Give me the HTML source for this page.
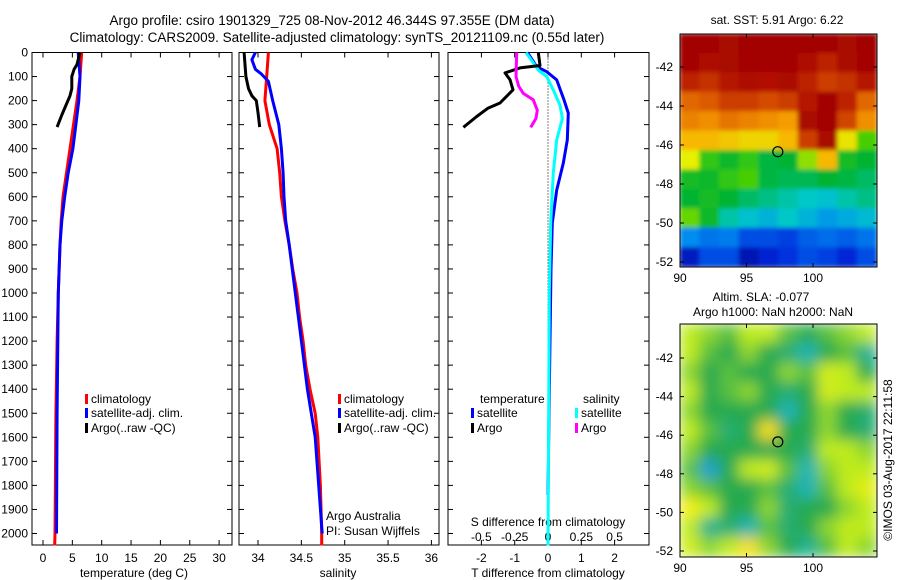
<!DOCTYPE html>
<html><head><meta charset="utf-8">
<style>
html,body{margin:0;padding:0;background:#fff;}
svg{display:block;font-family:"Liberation Sans",sans-serif;}
text{font-size:12px;fill:#000;}
</style></head>
<body>
<svg id="chart" width="900" height="580" viewBox="0 0 900 580">
<defs>
<filter id="blur" x="0" y="0" width="1" height="1"><feGaussianBlur stdDeviation="7"/></filter>
<filter id="blur2" x="0" y="0" width="1" height="1"><feGaussianBlur stdDeviation="2"/></filter>
<clipPath id="clipTop"><rect x="680" y="34" width="197" height="233"/></clipPath>
<clipPath id="clipBot"><rect x="680" y="324" width="197" height="233"/></clipPath>
</defs>
<text x="332" y="25" text-anchor="middle" style="font-size:13.5px">Argo profile: csiro 1901329_725 08-Nov-2012 46.344S 97.355E (DM data)</text>
<text x="337" y="42" text-anchor="middle" style="font-size:13.5px">Climatology: CARS2009. Satellite-adjusted climatology: synTS_20121109.nc (0.55d later)</text>
<g id="g"></g>
</svg>
<script>
// ---- data ----
const depthTicks = [0,100,200,300,400,500,600,700,800,900,1000,1100,1200,1300,1400,1500,1600,1700,1800,1900,2000];
const tempTicks = [0,5,10,15,20,25,30];
const salTicks = [34,34.5,35,35.5,36];
const salTickLabels = ["34","34.5","35","35.5","36"];
const tdiffTicks = [-2,-1,0,1,2];
const sdiffTicks = [-0.5,-0.25,0,0.25,0.5];
const sdiffTickLabels = ["-0.5","-0.25","0","0.25","0.5"];

const climDepth = [0,100,200,300,400,500,600,700,800,1000,1200,1500,2000,2050];
const climTemp  = [6.6,6.3,5.8,5.2,4.6,4.0,3.4,3.1,2.9,2.6,2.4,2.2,2.05,2.0];
const satDepth  = [0,100,200,300,400,500,600,700,800,1000,1500,2000];
const satTemp   = [6.0,6.3,6.1,5.6,5.1,4.3,3.7,3.2,2.9,2.6,2.4,2.3];
const argoDepth = [0,50,70,100,150,180,220,260,310];
const argoTemp  = [6.3,5.8,5.3,4.9,4.9,4.6,3.9,3.2,2.4];

const climSalDepth = [0,100,200,300,400,500,600,700,800,900,1000,1100,1200,1300,1400,1500,1600,1800,2000,2050];
const climSal = [34.12,34.10,34.08,34.13,34.22,34.25,34.27,34.31,34.36,34.40,34.45,34.48,34.52,34.55,34.60,34.66,34.69,34.72,34.735,34.735];
const satSalDepth = [0,30,70,90,120,200,300,400,500,600,700,800,1000,1200,1400,1600,1800,2000];
const satSal = [33.97,33.93,33.97,34.04,34.12,34.17,34.24,34.27,34.29,34.30,34.32,34.36,34.43,34.50,34.57,34.66,34.70,34.74];
const argoSalDepth = [0,100,150,180,200,250,310];
const argoSal = [33.84,33.86,33.89,33.93,33.98,34.0,34.02];

const dSatTDepth = [0,59,80,114,197,252,364,460,572,709,900,1500,1840];
const dSatT = [-0.62,-0.34,-0.04,0.26,0.48,0.61,0.58,0.46,0.26,0.13,0.09,0.03,0.0];
const dSatSDepth = [0,75,100,156,219,274,364,500,709,1000,1500,2050];
const dSatS = [-0.165,-0.07,-0.01,0.04,0.09,0.108,0.065,0.04,0.02,0.01,0.005,0.0];
const dArgoTDepth = [0,54,64,85,113,155,210,231,266,311];
const dArgoT = [-0.29,-0.24,-0.84,-1.29,-1.14,-1.05,-1.44,-1.8,-2.14,-2.54];
const dArgoSDepth = [0,100,140,170,197,240,274,311];
const dArgoS = [-0.235,-0.24,-0.22,-0.185,-0.11,-0.08,-0.09,-0.13];

const latTicks = [-42,-44,-46,-48,-50,-52];
const lonTicks = [90,95,100];
const sstGrid = [
[0.99,0.99,0.97,0.99,0.99,0.99,0.99,0.99,0.97,0.99],
[0.98,0.95,0.97,0.98,0.98,0.98,0.95,0.9,0.96,0.98],
[0.9,0.88,0.92,0.95,0.93,0.96,0.9,0.86,0.88,0.92],
[0.8,0.82,0.86,0.86,0.84,0.86,0.92,0.99,0.9,0.8],
[0.76,0.74,0.78,0.76,0.74,0.72,0.97,0.99,0.85,0.74],
[0.68,0.68,0.66,0.64,0.64,0.68,0.86,0.97,0.62,0.52],
[0.6,0.5,0.46,0.5,0.44,0.45,0.56,0.68,0.47,0.45],
[0.47,0.46,0.5,0.52,0.44,0.43,0.43,0.45,0.44,0.42],
[0.45,0.47,0.45,0.42,0.4,0.38,0.36,0.35,0.38,0.4],
[0.54,0.46,0.38,0.35,0.33,0.36,0.33,0.3,0.32,0.34],
[0.28,0.25,0.26,0.2,0.2,0.18,0.22,0.24,0.22,0.25],
[0.1,0.2,0.2,0.08,0.13,0.16,0.2,0.18,0.14,0.2]];
const slaGrid = [
[0.6,0.55,0.5,0.6,0.6,0.5,0.45,0.5,0.55,0.6],
[0.6,0.5,0.45,0.55,0.45,0.4,0.3,0.45,0.5,0.35],
[0.55,0.45,0.5,0.45,0.45,0.55,0.5,0.65,0.6,0.45],
[0.6,0.45,0.5,0.55,0.45,0.4,0.45,0.65,0.6,0.6],
[0.55,0.45,0.45,0.45,0.45,0.3,0.45,0.55,0.45,0.4],
[0.6,0.5,0.4,0.45,0.8,0.45,0.45,0.55,0.45,0.4],
[0.55,0.45,0.45,0.45,0.45,0.45,0.4,0.6,0.6,0.55],
[0.5,0.15,0.45,0.6,0.65,0.5,0.3,0.55,0.6,0.6],
[0.55,0.5,0.45,0.45,0.5,0.4,0.3,0.5,0.6,0.7],
[0.75,0.6,0.45,0.45,0.55,0.4,0.45,0.45,0.55,0.6],
[0.6,0.35,0.4,0.3,0.5,0.4,0.45,0.55,0.6,0.6],
[0.65,0.55,0.6,0.8,0.55,0.45,0.35,0.5,0.6,0.55]];
const argoLon = 97.355, argoLat = -46.344;

// ---- helpers ----
const NS="http://www.w3.org/2000/svg";
const G=document.getElementById('g');
function mk(tag,attrs,parent){const e=document.createElementNS(NS,tag);for(const k in attrs)e.setAttribute(k,attrs[k]);(parent||G).appendChild(e);return e;}
function txt(s,x,y,anchor,parent,extra){const t=mk('text',Object.assign({x:x,y:y,'text-anchor':anchor||'start'},extra||{}),parent);t.textContent=s;return t;}
const TOP=52.5, BOT=545, PXD=0.2405;
const yD=d=>TOP+d*PXD;
const xT=v=>43+v*5.87;
const xS=v=>258+(v-34)*86.7;
const xDT=v=>548+v*33.3;
const xDS=v=>548+v*133.3;
function line(xs,ds,fx,color,name){
  const p=xs.map((v,i)=>(i?'L':'M')+fx(v).toFixed(1)+' '+yD(ds[i]).toFixed(1)).join(' ');
  const e=mk('path',{d:p,fill:'none',stroke:color,'stroke-width':3,'stroke-linejoin':'round'});
  
  
}
function frame(x0,x1,name){
  const r=mk('rect',{x:x0,y:TOP,width:x1-x0,height:BOT-TOP,fill:'none',stroke:'#000','stroke-width':1});
  
  
  depthTicks.forEach(d=>{mk('line',{x1:x0,x2:x0+5,y1:yD(d),y2:yD(d),stroke:'#000'});mk('line',{x1:x1-5,x2:x1,y1:yD(d),y2:yD(d),stroke:'#000'});});
}
function xticks(vals,labels,fx,name){
  vals.forEach((v,i)=>{const x=fx(v);
    mk('line',{x1:x,x2:x,y1:TOP,y2:TOP+5,stroke:'#000'});mk('line',{x1:x,x2:x,y1:BOT-5,y2:BOT,stroke:'#000'});
    const t=txt(labels[i],x,562,'middle');
    
    });
}
depthTicks.forEach(d=>{const t=txt(String(d),28,yD(d)+4,'end');
  
  });

// panel 1
frame(32,232,'temperature-panel');
xticks(tempTicks,tempTicks.map(String),xT,'temperature-tick-label');
txt('temperature (deg C)',134,577,'middle');
line(climTemp,climDepth,xT,'#f00','temp-climatology-line');
line(satTemp,satDepth,xT,'#00f','temp-satellite-line');
line(argoTemp,argoDepth,xT,'#000','temp-argo-line');
function legend(x,y,color,label,name){
  mk('rect',{x:x,y:y-9,width:3,height:10,fill:color});
  const t=txt(label,x+6,y,'start');
  
  
}
legend(85,403,'#f00','climatology','legend-climatology');
legend(85,417,'#00f','satellite-adj. clim.','legend-satellite');
legend(85,432,'#000','Argo(..raw -QC)','legend-argo');

// panel 2
frame(239,439,'salinity-panel');
xticks(salTicks,salTickLabels,xS,'salinity-tick-label');
txt('salinity',338,577,'middle');
line(climSal,climSalDepth,xS,'#f00','sal-climatology-line');
line(satSal,satSalDepth,xS,'#00f','sal-satellite-line');
line(argoSal,argoSalDepth,xS,'#000','sal-argo-line');
legend(338,403,'#f00','climatology','legend-climatology-2');
legend(338,417,'#00f','satellite-adj. clim.','legend-satellite-2');
legend(338,432,'#000','Argo(..raw -QC)','legend-argo-2');
txt('Argo Australia',326,520,'start');
txt('PI: Susan Wijffels',326,535,'start');

// panel 3
frame(448,649,'difference-panel');
mk('line',{x1:548,x2:548,y1:TOP,y2:BOT,stroke:'#000','stroke-dasharray':'1,2'});
xticks(tdiffTicks,tdiffTicks.map(String),xDT,'tdiff-tick-label');
sdiffTicks.forEach((v,i)=>{const t=txt(sdiffTickLabels[i],xDS(v),541,'middle');
  
  });
txt('S difference from climatology',548,526,'middle');
txt('T difference from climatology',548,577,'middle');
line(dSatT,dSatTDepth,xDT,'#00f','tdiff-satellite-line');
line(dSatS,dSatSDepth,xDS,'#0ff','sdiff-satellite-line');
line(dArgoT,dArgoTDepth,xDT,'#000','tdiff-argo-line');
line(dArgoS,dArgoSDepth,xDS,'#f0f','sdiff-argo-line');
txt('temperature',480,403,'start');
txt('salinity',583,403,'start');
legend(471,417,'#00f','satellite','legend-t-satellite');
legend(471,432,'#000','Argo','legend-t-argo');
legend(575,417,'#0ff','satellite','legend-s-satellite');
legend(575,432,'#f0f','Argo','legend-s-argo');

// maps
function ramp(stops,v){for(let i=1;i<stops.length;i++){if(v<=stops[i][0]){const a=stops[i-1],b=stops[i],f=(v-a[0])/(b[0]-a[0]);
  return 'rgb('+a[1].map((c,k)=>Math.round(c+(b[1][k]-c)*f)).join(',')+')';}}const l=stops[stops.length-1][1];return 'rgb('+l.join(',')+')';}
const sstStops=[[0,[0,0,130]],[0.15,[0,40,220]],[0.28,[0,140,240]],[0.36,[0,200,200]],[0.45,[0,180,50]],[0.53,[80,210,0]],[0.6,[230,240,0]],[0.7,[250,170,0]],[0.82,[220,90,0]],[0.92,[180,20,0]],[1,[160,0,0]]];
const slaStops=[[0,[30,140,230]],[0.3,[30,180,180]],[0.45,[40,170,80]],[0.6,[190,235,30]],[0.75,[245,240,20]],[1,[245,160,0]]];
const sstCol=v=>ramp(sstStops,v);
const slaCol=v=>ramp(slaStops,v);
function map(y0,grid,colf,clip,filt,name,latPx,latRef){
  const x0=680,w=197,h=233,cw=w/10,ch=h/12;
  const lonX=l=>680+(l-90)*13.3;
  const latY=l=>latRef+(-42-l)*latPx;
  const g=mk('g',{'clip-path':`url(#${clip})`});
  
  
  const inner=mk('g',{filter:`url(#${filt})`},g);
  mk('rect',{x:x0,y:y0,width:w,height:h,fill:colf(0.45)},inner);
  grid.forEach((row,r)=>row.forEach((v,c)=>mk('rect',{x:x0+c*cw-0.5,y:y0+r*ch-0.5,width:cw+1,height:ch+1,fill:colf(v)},inner)));
  mk('rect',{x:x0,y:y0,width:w,height:h,fill:'none',stroke:'#000'});
  latTicks.forEach(l=>{const y=latY(l);mk('line',{x1:x0,x2:x0+4,y1:y,y2:y,stroke:'#000'});mk('line',{x1:x0+w-4,x2:x0+w,y1:y,y2:y,stroke:'#000'});
    const t=txt(String(l),673,y+4,'end');});
  lonTicks.forEach(l=>{const x=lonX(l);mk('line',{x1:x,x2:x,y1:y0,y2:y0+4,stroke:'#000'});mk('line',{x1:x,x2:x,y1:y0+h-4,y2:y0+h,stroke:'#000'});
    const t=txt(String(l),x,y0+h+15,'middle');});
  const m=mk('ellipse',{cx:lonX(argoLon),cy:latY(argoLat),rx:5,ry:5,fill:'none',stroke:'#000','stroke-width':1.2});
  
  
}
map(34,sstGrid,sstCol,'clipTop','blur2','sst-map',19.5,67);
map(324,slaGrid,slaCol,'clipBot','blur','sla-map',19.3,358);
txt('sat. SST: 5.91 Argo: 6.22',777,24,'middle');
txt('Altim. SLA: -0.077',761,301,'middle');
txt('Argo h1000: NaN h2000: NaN',773,316,'middle');
const ts=txt('©IMOS 03-Aug-2017 22:11:58',0,0,'middle',null,{transform:'translate(892,460) rotate(-90)'});


</script>
</body></html>
